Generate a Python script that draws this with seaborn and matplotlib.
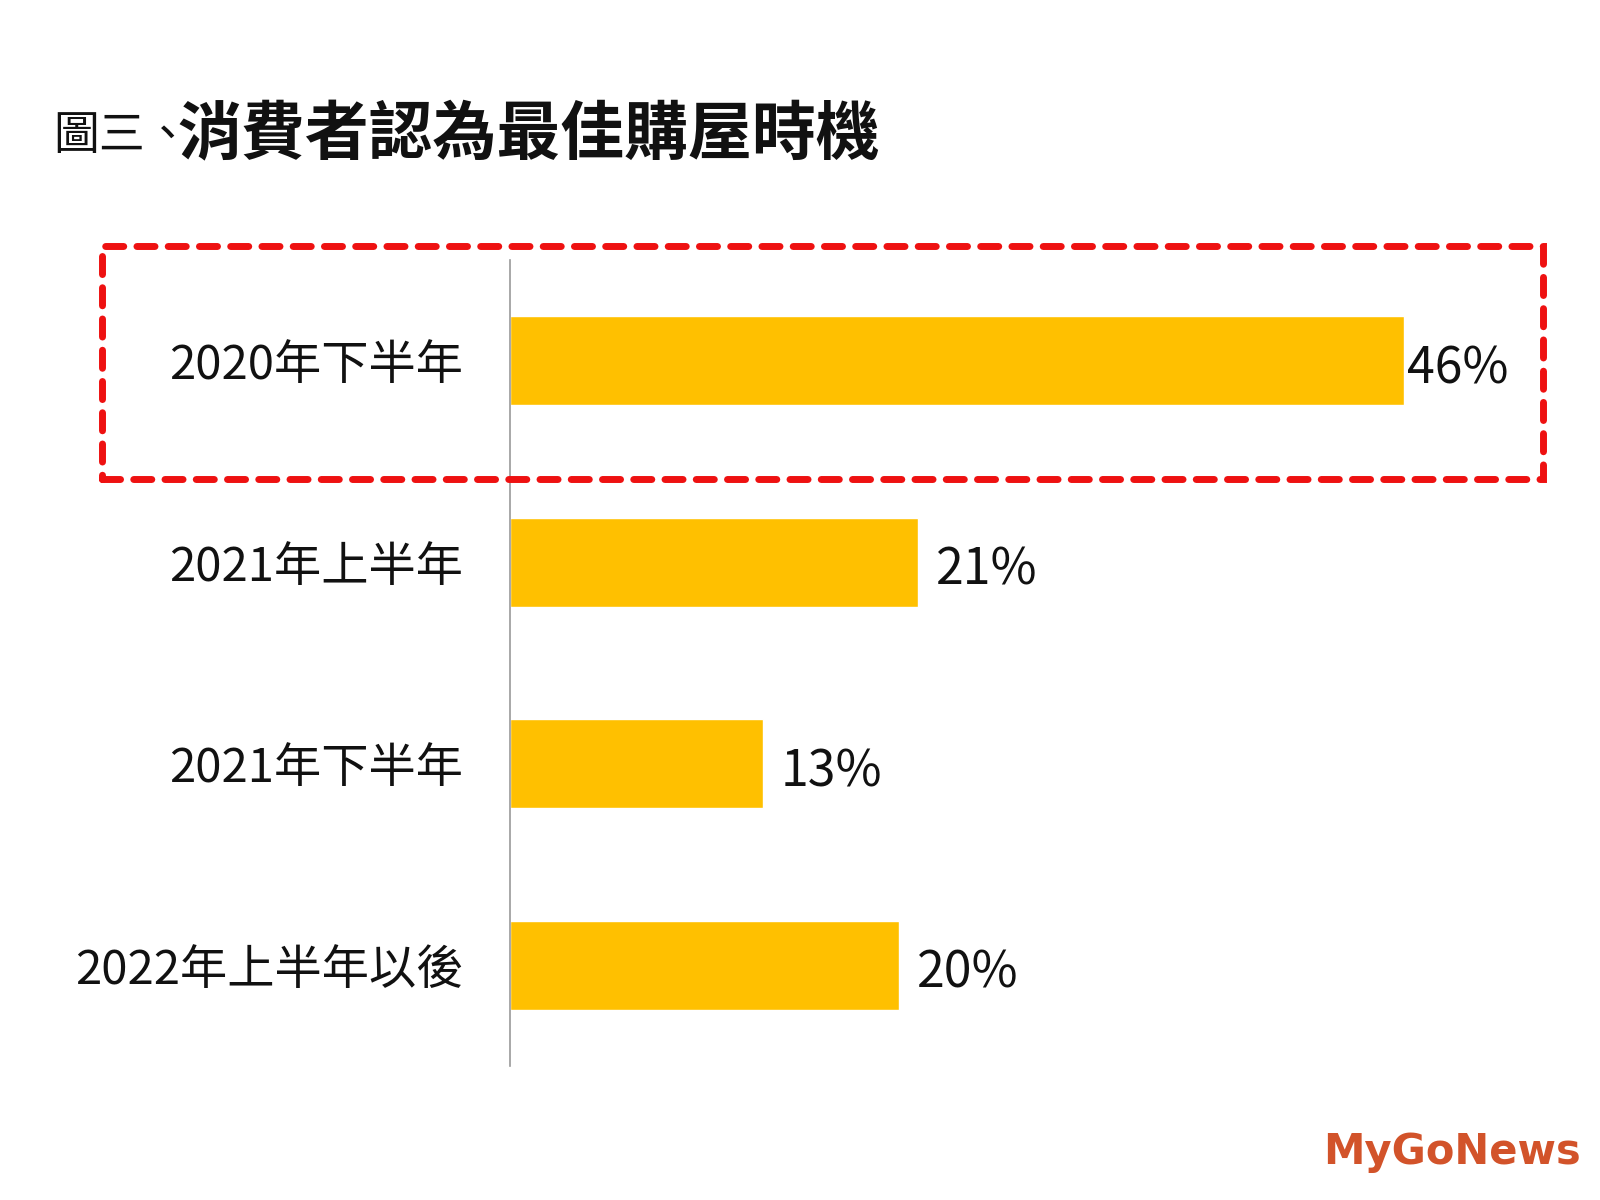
import matplotlib
matplotlib.use("Agg")
import matplotlib.pyplot as plt
import seaborn as sns
import pandas as pd
from matplotlib.patches import Rectangle

# data
periods = ["2020年下半年", "2021年上半年", "2021年下半年", "2022年上半年以後"]
shares = [46, 21, 13, 20]
value_labels = ["46%", "21%", "13%", "20%"]

sns.set_style("white")
plt.rcParams['font.family'] = ['Noto Sans CJK TC', 'DejaVu Sans']

df = pd.DataFrame({"period": periods, "share": shares})

fig = plt.figure(figsize=(16, 12), dpi=100)
ax = fig.add_axes([0.319, 0.1117, 0.681, 0.6717])

sns.barplot(data=df, x="share", y="period", orient="h", color="#FFC000",
            saturation=1, width=0.44, ax=ax)

ax.set_xlim(0, 56.1)
ax.set_ylim(3.5, -0.5)
ax.set_xlabel("")
ax.set_ylabel("")
ax.set_xticks([])
ax.tick_params(axis="y", length=0, pad=34, labelsize=34)
for lab in ax.get_yticklabels():
    lab.set_color("#111111")
for s in ["top", "right", "bottom"]:
    ax.spines[s].set_visible(False)
ax.spines["left"].set_color("#9a9a9a")
ax.spines["left"].set_linewidth(1.2)

# value labels next to each bar (first one sits tight against its bar)
for i, (v, lab) in enumerate(zip(shares, value_labels)):
    ax.annotate(lab, xy=(v, i), xytext=(2 if i == 0 else 13, -6),
                textcoords="offset points", ha="left", va="center",
                fontsize=36, color="#111111")

# title
fig.text(0.033, 0.887, "圖三、", fontsize=33, fontweight="medium", va="center",
         ha="left", color="#111111")
fig.text(0.111, 0.887, "消費者認為最佳購屋時機", fontsize=46, fontweight="black",
         va="center", ha="left", color="#111111")

# highlight box around first row
box = Rectangle((102 / 1600, 1 - 479 / 1200), (1543 - 102) / 1600, (479 - 246) / 1200,
                transform=fig.transFigure, fill=False, edgecolor="#ee1111",
                linewidth=5, linestyle=(0, (2.6, 1.9)), zorder=5)
box.set_capstyle("round")
fig.patches.append(box)

# watermark
fig.text(0.988, 0.04, "MyGoNews", fontsize=30, fontweight="bold", color="#d2532a",
         ha="right", va="center", family=["DejaVu Sans"])

fig.savefig("out.png", dpi=100)
